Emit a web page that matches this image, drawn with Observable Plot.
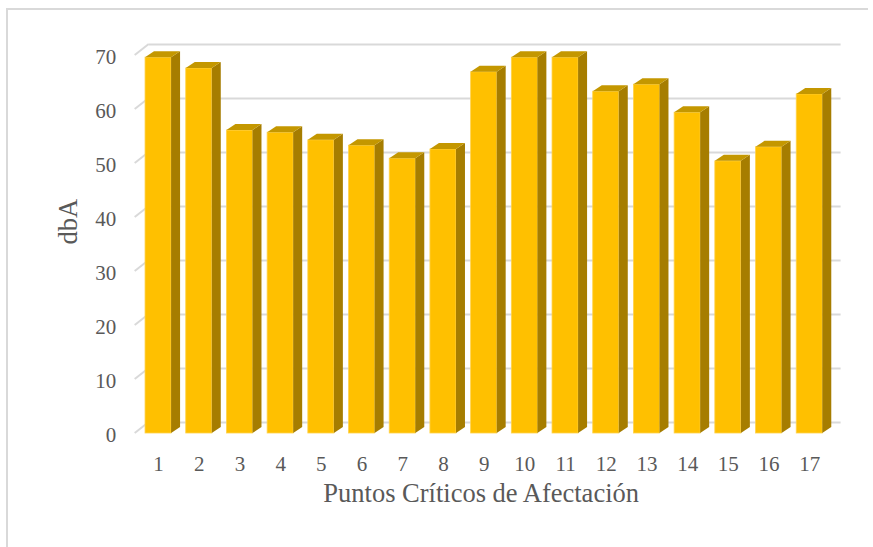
<!DOCTYPE html>
<html>
<head>
<meta charset="utf-8">
<script src="https://cdn.jsdelivr.net/npm/d3@7"></script>
<script src="https://cdn.jsdelivr.net/npm/@observablehq/plot@0.6"></script>
<style>
  html, body { margin: 0; padding: 0; background: #fff; }
  #chart { position: relative; width: 873px; height: 547px; overflow: hidden; }
  #frame { position: absolute; left: 6px; top: 8px; width: 860px; height: 600px;
           border-top: 2px solid #d9d9d9; border-left: 2px solid #d9d9d9; }
  #chart svg { position: absolute; left: 0; top: 0; }
</style>
</head>
<body>
<div id="chart"><div id="frame"></div></div>
<script>
// Sound level (dBA) at each critical point
const points = [1, 2, 3, 4, 5, 6, 7, 8, 9, 10, 11, 12, 13, 14, 15, 16, 17];
const levels = [69.6, 67.6, 56.1, 55.7, 54.3, 53.3, 50.9, 52.6, 66.9, 69.6, 69.6, 63.3, 64.6, 59.4, 50.4, 53.0, 62.8];
const yTicks = [0, 10, 20, 30, 40, 50, 60, 70];
const xTitle = "Puntos Críticos de Afectación";
const yTitle = "dbA";

const rows = points.map((p, i) => ({punto: p, dbA: levels[i]}));

const FRONT = "#FFC000", SIDE = "#A67D00", TOP = "#C49700", GRID = "#d9d9d9";
const DX = 9, DY = -6;        // bar depth offset (px)
const WALL = 11;              // back-wall depth offset (px)

// Diagonal floor/wall tick marks joining the labels to the back wall
function wallTicks(index, scales, values, dims) {
  const {y} = scales;
  const g = d3.create("svg:g").attr("stroke", GRID).attr("stroke-width", 2);
  const x0 = dims.marginLeft - 3;
  for (const v of yTicks) {
    g.append("line")
      .attr("x1", x0).attr("y1", y(v))
      .attr("x2", x0 + WALL + 3).attr("y2", y(v) - WALL);
  }
  return g.node();
}

// Side and top faces of each 3D column
function bevel(index, scales) {
  const {x, y} = scales;
  const bw = x.bandwidth();
  const g = d3.create("svg:g");
  for (const r of rows) {
    const x0 = x(r.punto), x1 = x0 + bw;
    const yt = y(r.dbA), yb = y(0);
    g.append("polygon")
      .attr("points", [[x1, yt], [x1 + DX, yt + DY], [x1 + DX, yb + DY], [x1, yb]].join(" "))
      .attr("fill", SIDE);
    g.append("polygon")
      .attr("points", [[x0, yt], [x0 + DX, yt + DY], [x1 + DX, yt + DY], [x1, yt]].join(" "))
      .attr("fill", TOP);
  }
  return g.node();
}

const chart = Plot.plot({
  width: 873,
  height: 547,
  marginLeft: 137.7,
  marginRight: 43.4,
  marginTop: 55,
  marginBottom: 114,
  style: {fontFamily: "'Liberation Serif', 'Times New Roman', serif", fontSize: "21px", color: "#595959", background: "transparent"},
  x: {type: "band", domain: points, paddingInner: 0.36, paddingOuter: 0.18, round: false},
  y: {domain: [0, 70]},
  marks: [
    Plot.ruleY(yTicks, {stroke: GRID, strokeWidth: 2, dx: WALL, dy: -WALL}),
    wallTicks,
    Plot.barY(rows, {x: "punto", y: "dbA", fill: FRONT, stroke: "#FFD34D", strokeWidth: 0.8}),
    bevel,
    Plot.axisY(yTicks, {tickSize: 0, tickPadding: 22, fontSize: 21, dy: 2, label: null}),
    Plot.axisX({tickSize: 0, tickPadding: 23, fontSize: 21, label: null}),
    Plot.text([xTitle], {frameAnchor: "bottom", dy: 68, dx: -3, fontSize: 26.5, fill: "#595959"}),
    Plot.text([yTitle], {frameAnchor: "left", dx: -70, rotate: -90, fontSize: 26.5, fill: "#595959"})
  ]
});

document.getElementById("chart").appendChild(chart);
</script>
</body>
</html>
